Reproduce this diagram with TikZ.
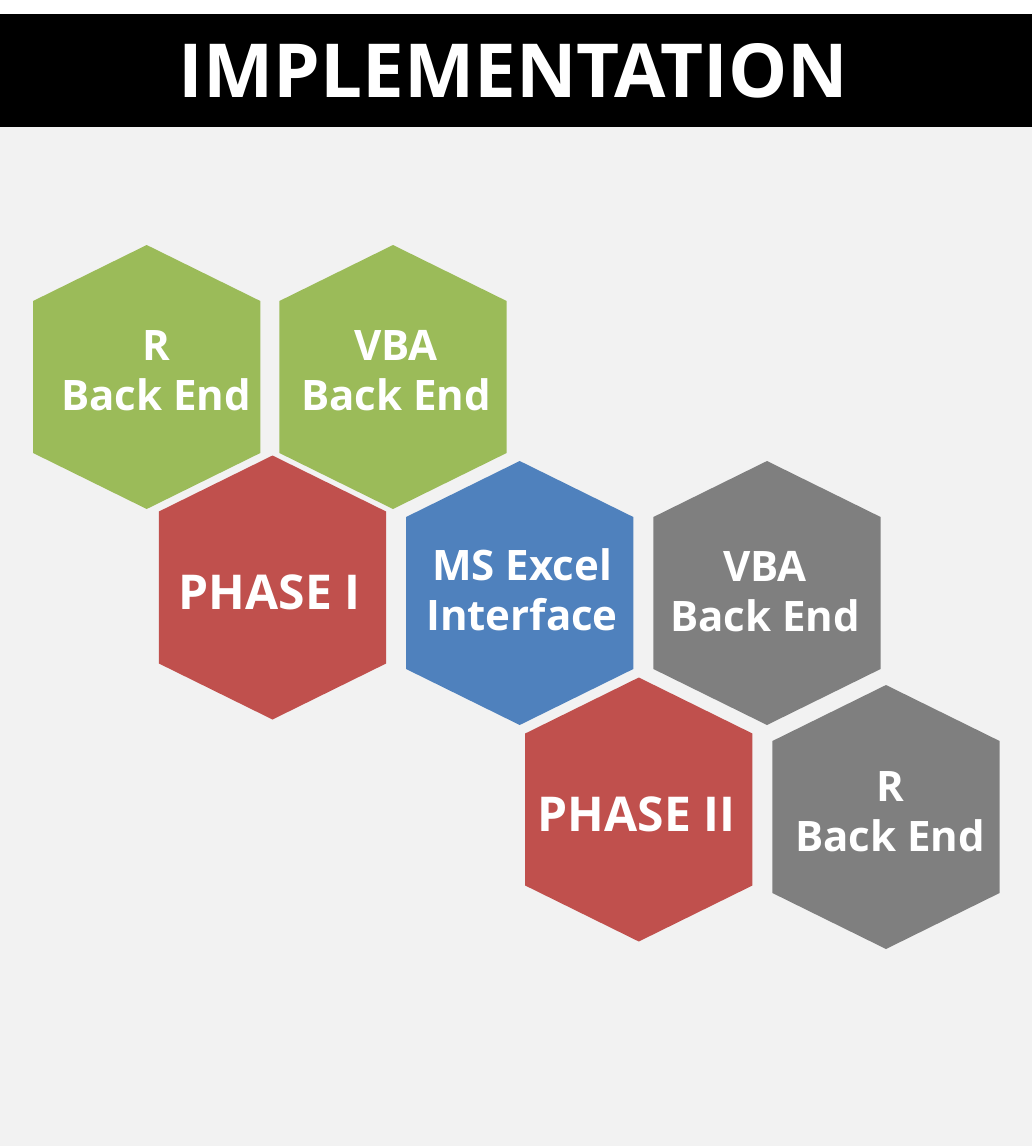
\documentclass[tikz,border=0pt]{standalone}
\usepackage{fontspec}
\setmainfont{Open Sans}
\definecolor{hgreen}{HTML}{9BBB59}
\definecolor{hred}{HTML}{C0504D}
\definecolor{hblue}{HTML}{4F81BD}
\definecolor{hgrey}{HTML}{7F7F7F}
\definecolor{bggrey}{HTML}{F2F2F2}
\tikzset{
  hexlabel/.style={text=white, align=center, inner sep=0pt,
    font=\fontsize{42}{50}\selectfont\bfseries},
  phaselabel/.style={text=white, align=center, inner sep=0pt,
    font=\fontsize{48}{56}\selectfont\bfseries},
  titlelabel/.style={text=white, inner sep=0pt,
    font=\fontsize{74.5}{80}\selectfont\bfseries}
}
\newcommand\hexfill[2]{%
  \fill[#2, shift={(#1)}] (0,-132) -- (113.6,-76) -- (113.6,76) -- (0,132)
    -- (-113.6,76) -- (-113.6,-76) -- cycle;}
\begin{document}
\begin{tikzpicture}[x=1pt,y=-1pt]
\useasboundingbox (0,0) rectangle (1035,1146);
\fill[white] (0,0) rectangle (1035,1146);
\fill[black] (0,14) rectangle (1032,127);
\fill[bggrey] (0,127) rectangle (1032,1146);
\node[titlelabel] (title) at (513.5,71) {IMPLEMENTATION};
% hexagon centres
\coordinate (c1) at (146.7,377);
\coordinate (c2) at (393,377);
\coordinate (c3) at (272.5,587.5);
\coordinate (c4) at (519.7,593);
\coordinate (c5) at (767,593);
\coordinate (c6) at (638.8,809.5);
\coordinate (c7) at (886,817);
\hexfill{c1}{hgreen}
\hexfill{c2}{hgreen}
\hexfill{c3}{hred}
\hexfill{c4}{hblue}
\hexfill{c5}{hgrey}
\hexfill{c6}{hred}
\hexfill{c7}{hgrey}
\node[hexlabel] (t1) at (156,370.5) {R\\Back End};
\node[hexlabel] (t2) at (396,370.5) {VBA\\Back End};
\node[phaselabel] (t3) at (269.5,592) {PHASE I};
\node[hexlabel] (t4) at (522,589.5) {MS Excel\\Interface};
\node[hexlabel] (t5) at (765,591.5) {VBA\\Back End};
\node[phaselabel] (t6) at (636.5,814) {PHASE II};
\node[hexlabel] (t7) at (890,811.5) {R\\Back End};
\end{tikzpicture}
\end{document}
